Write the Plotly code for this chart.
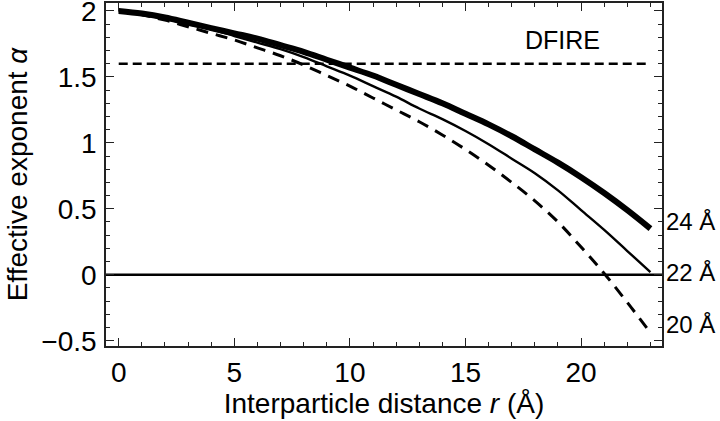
import plotly.graph_objects as go

r = list(range(0, 24))
alpha_24 = [2.00, 1.98, 1.95, 1.91, 1.87, 1.83, 1.79, 1.74, 1.69, 1.63, 1.57, 1.51,
            1.44, 1.37, 1.30, 1.22, 1.14, 1.05, 0.95, 0.85, 0.74, 0.62, 0.49, 0.35]
alpha_22 = [2.00, 1.97, 1.94, 1.90, 1.86, 1.81, 1.76, 1.71, 1.65, 1.58, 1.51, 1.43,
            1.35, 1.26, 1.18, 1.09, 0.99, 0.88, 0.77, 0.64, 0.49, 0.34, 0.18, 0.02]
alpha_20 = [2.00, 1.97, 1.93, 1.88, 1.83, 1.78, 1.72, 1.66, 1.59, 1.51, 1.43, 1.34,
            1.25, 1.16, 1.06, 0.95, 0.83, 0.70, 0.56, 0.40, 0.21, 0.01, -0.21, -0.44]
dfire_r = [0, 23]
dfire_alpha = [1.6, 1.6]
zero_r = [-0.55, 23.5]
zero_alpha = [0, 0]

curve_labels = ["24 Å", "22 Å", "20 Å"]
label_y = [0.40, 0.02, -0.38]

FONT = "Liberation Sans, Arial, Helvetica, sans-serif"

fig = go.Figure()
fig.add_trace(go.Scatter(x=zero_r, y=zero_alpha, mode="lines",
                         line=dict(color="black", width=2.6)))
fig.add_trace(go.Scatter(x=dfire_r, y=dfire_alpha, mode="lines",
                         line=dict(color="black", width=2.6, dash="9px,5px")))
fig.add_trace(go.Scatter(x=r, y=alpha_20, mode="lines", line_shape="spline",
                         line=dict(color="black", width=3, dash="12px,8px")))
fig.add_trace(go.Scatter(x=r, y=alpha_22, mode="lines", line_shape="spline",
                         line=dict(color="black", width=2.4)))
fig.add_trace(go.Scatter(x=r, y=alpha_24, mode="lines", line_shape="spline",
                         line=dict(color="black", width=6)))

for lab, yy in zip(curve_labels, label_y):
    fig.add_annotation(x=1.0, xref="paper", y=yy, yref="y", text=lab,
                       showarrow=False, xanchor="left", xshift=2,
                       font=dict(family=FONT, size=24, color="black"))
fig.add_annotation(x=19.2, y=1.78, text="DFIRE", showarrow=False,
                   font=dict(family=FONT, size=25, color="black"))

axis_common = dict(
    showgrid=False, zeroline=False, showline=True, linecolor="#222",
    linewidth=1.5, mirror="allticks", ticks="inside", ticklen=8,
    tickwidth=1.2, tickcolor="#222", automargin=False,
    ticklabeloverflow="allow",
    tickfont=dict(family=FONT, size=28, color="black"),
)

fig.update_xaxes(range=[-0.55, 23.5], tickvals=[0, 5, 10, 15, 20],
                 ticklabelstandoff=1,
                 minor=dict(dtick=1, ticks="inside", ticklen=4, tickcolor="#222", tickwidth=1),
                 title=dict(text="Interparticle distance <i>r</i> (Å)",
                            font=dict(family=FONT, size=28, color="black"), standoff=0),
                 **axis_common)
fig.update_yaxes(range=[-0.54, 2.06], tickvals=[-0.5, 0, 0.5, 1, 1.5, 2],
                 ticktext=["\u22120.5", "0", "0.5", "1", "1.5", "2"],
                 ticklabelstandoff=2,
                 minor=dict(dtick=0.1, tick0=0, ticks="inside", ticklen=4, tickcolor="#222", tickwidth=1),
                 title=dict(text="Effective exponent <i>α</i>",
                            font=dict(family=FONT, size=28, color="black"), standoff=6),
                 **axis_common)

fig.update_layout(
    width=720, height=421,
    margin=dict(l=106, r=58, t=3, b=75),
    plot_bgcolor="white", paper_bgcolor="white",
    showlegend=False,
)

fig.write_html("out.html", config={"displayModeBar": False},
               post_script="document.body.style.margin='0';document.body.style.overflow='hidden';")
